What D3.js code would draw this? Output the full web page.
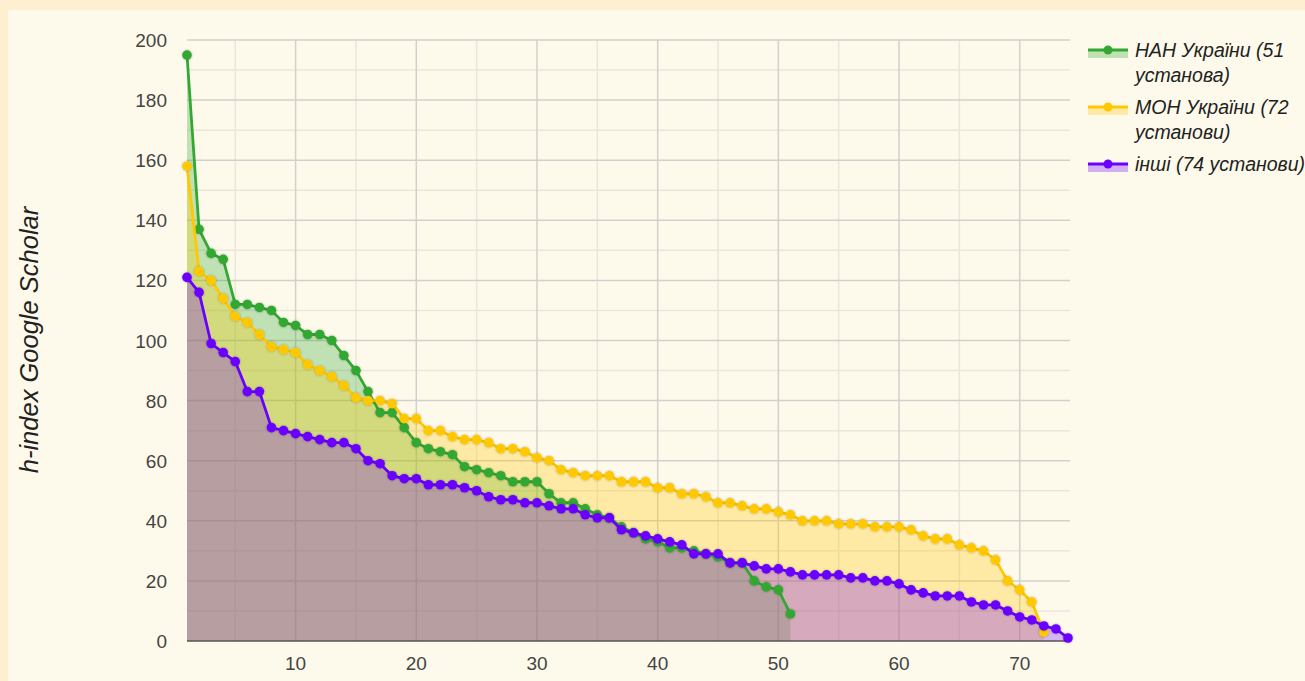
<!DOCTYPE html>
<html>
<head>
<meta charset="utf-8">
<script src="https://cdn.jsdelivr.net/npm/d3@7"></script>
<style>
  html, body { margin: 0; padding: 0; background: #fdefd0; }
  #chart { width: 1305px; height: 681px; overflow: hidden; }
  text { font-family: Arial, "Liberation Sans", sans-serif; }
</style>
</head>
<body>
<div id="chart"></div>
<script>
//=====================================================
// data (h-index by rank)
var seriesNames = ["НАН України (51 установа)", "МОН України (72 установи)", "інші (74 установи)"];
var seriesColors = ["#33a833", "#ffc800", "#6a00ff"];

var nanValues = [195, 137, 129, 127, 112, 112, 111, 110, 106, 105,
  102, 102, 100, 95, 90, 83, 76, 76, 71, 66,
  64, 63, 62, 58, 57, 56, 55, 53, 53, 53,
  49, 46, 46, 44, 42, 41, 38, 36, 34, 33,
  31, 31, 30, 29, 28, 26, 26, 20, 18, 17,
  9];

var monValues = [158, 123, 120, 114, 108, 106, 102, 98, 97, 96,
  92, 90, 88, 85, 81, 80, 80, 79, 74, 74,
  70, 70, 68, 67, 67, 66, 64, 64, 63, 61,
  60, 57, 56, 55, 55, 55, 53, 53, 53, 51,
  51, 49, 49, 48, 46, 46, 45, 44, 44, 43,
  42, 40, 40, 40, 39, 39, 39, 38, 38, 38,
  37, 35, 34, 34, 32, 31, 30, 27, 20, 17,
  13, 3];

var otherValues = [121, 116, 99, 96, 93, 83, 83, 71, 70, 69,
  68, 67, 66, 66, 64, 60, 59, 55, 54, 54,
  52, 52, 52, 51, 50, 48, 47, 47, 46, 46,
  45, 44, 44, 42, 41, 41, 37, 36, 35, 34,
  33, 32, 29, 29, 29, 26, 26, 25, 24, 24,
  23, 22, 22, 22, 22, 21, 21, 20, 20, 19,
  17, 16, 15, 15, 15, 13, 12, 12, 10, 8,
  7, 5, 4, 1];

var yTicks = [0, 20, 40, 60, 80, 100, 120, 140, 160, 180, 200];
var yMinor = [10, 30, 50, 70, 90, 110, 130, 150, 170, 190];
var xTicks = [10, 20, 30, 40, 50, 60, 70];
var xMinor = [5, 15, 25, 35, 45, 55, 65];
var yTitle = "h-index Google Scholar";

//=====================================================
var width = 1305, height = 681;

var svg = d3.select("#chart").append("svg")
  .attr("width", width)
  .attr("height", height);

// soft shadow for the points
var shadow = svg.append("defs").append("filter")
  .attr("id", "soft").attr("x", "-50%").attr("y", "-50%")
  .attr("width", "200%").attr("height", "200%");
shadow.append("feDropShadow")
  .attr("dx", 0).attr("dy", 0).attr("stdDeviation", 1.2)
  .attr("flood-color", "#000").attr("flood-opacity", 0.35);

// inner panel
svg.append("rect")
  .attr("x", 8).attr("y", 10)
  .attr("width", width).attr("height", height)
  .attr("fill", "#fefaeb");

var x = d3.scaleLinear().domain([1, 74]).range([187, 1068]);
var y = d3.scaleLinear().domain([0, 200]).range([641, 40]);

var gridRight = 1070;

// grid
var grid = svg.append("g");
grid.selectAll(".ymin").data(yMinor).enter().append("line")
  .attr("x1", x(1)).attr("x2", gridRight)
  .attr("y1", function(d) { return y(d); }).attr("y2", function(d) { return y(d); })
  .attr("stroke", "#ebe6da").attr("stroke-width", 1.5);
grid.selectAll(".xmin").data(xMinor).enter().append("line")
  .attr("x1", function(d) { return x(d); }).attr("x2", function(d) { return x(d); })
  .attr("y1", y(200)).attr("y2", y(0))
  .attr("stroke", "#ebe6da").attr("stroke-width", 1.5);
grid.selectAll(".ymaj").data(yTicks.slice(1)).enter().append("line")
  .attr("x1", x(1)).attr("x2", gridRight)
  .attr("y1", function(d) { return y(d); }).attr("y2", function(d) { return y(d); })
  .attr("stroke", "#d2d0cc").attr("stroke-width", 1.5);
grid.selectAll(".xmaj").data(xTicks).enter().append("line")
  .attr("x1", function(d) { return x(d); }).attr("x2", function(d) { return x(d); })
  .attr("y1", y(200)).attr("y2", y(0))
  .attr("stroke", "#d2d0cc").attr("stroke-width", 1.5);

var series = [nanValues, monValues, otherValues].map(function(vals, i) {
  return {
    name: seriesNames[i],
    color: seriesColors[i],
    points: vals.map(function(v, j) { return { i: j + 1, v: v }; })
  };
});

var area = d3.area()
  .x(function(d) { return x(d.i); })
  .y0(y(0))
  .y1(function(d) { return y(d.v); });

var line = d3.line()
  .x(function(d) { return x(d.i); })
  .y(function(d) { return y(d.v); });

// areas
svg.append("g").selectAll("path").data(series).enter().append("path")
  .attr("d", function(d) { return area(d.points); })
  .attr("fill", function(d) { return d.color; })
  .attr("fill-opacity", function(d, i) { return i == 2 ? 0.27 : 0.3; });

// baseline
svg.append("line")
  .attr("x1", x(1)).attr("x2", gridRight)
  .attr("y1", y(0)).attr("y2", y(0))
  .attr("stroke", "#555").attr("stroke-width", 1.5);

// lines + points
var sg = svg.append("g").selectAll("g").data(series).enter().append("g");
sg.append("path")
  .attr("d", function(d) { return line(d.points); })
  .attr("fill", "none")
  .attr("stroke", function(d) { return d.color; })
  .attr("stroke-width", 2.8);
sg.each(function(s) {
  d3.select(this).selectAll("circle").data(s.points).enter().append("circle")
    .attr("cx", function(d) { return x(d.i); })
    .attr("cy", function(d) { return y(d.v); })
    .attr("r", 4.8)
    .attr("fill", s.color)
    .attr("filter", "url(#soft)");
});

// axis labels
svg.append("g").selectAll("text").data(yTicks).enter().append("text")
  .attr("x", 167)
  .attr("y", function(d) { return y(d) + 7; })
  .attr("text-anchor", "end")
  .attr("font-size", 19)
  .attr("fill", "#444")
  .text(function(d) { return d; });

svg.append("g").selectAll("text").data(xTicks).enter().append("text")
  .attr("x", function(d) { return x(d); })
  .attr("y", 670)
  .attr("text-anchor", "middle")
  .attr("font-size", 19)
  .attr("fill", "#444")
  .text(function(d) { return d; });

svg.append("text")
  .attr("transform", "translate(38,340) rotate(-90)")
  .attr("text-anchor", "middle")
  .attr("font-size", 25.5)
  .attr("font-style", "italic")
  .attr("fill", "#222")
  .text(yTitle);

// legend
var legendY = 50;
series.forEach(function(s) {
  var g = svg.append("g");
  g.append("rect")
    .attr("x", 1088).attr("y", legendY)
    .attr("width", 40).attr("height", 8)
    .attr("fill", s.color).attr("fill-opacity", 0.3);
  g.append("line")
    .attr("x1", 1088).attr("x2", 1128)
    .attr("y1", legendY).attr("y2", legendY)
    .attr("stroke", s.color).attr("stroke-width", 2.8);
  g.append("circle")
    .attr("cx", 1108).attr("cy", legendY).attr("r", 4.5)
    .attr("fill", s.color);

  var txt = g.append("text")
    .attr("x", 1135).attr("y", legendY + 7)
    .attr("font-size", 19.5)
    .attr("font-style", "italic")
    .attr("fill", "#222");

  // simple word wrap
  var words = s.name.split(" "), cur = [], lines = 0;
  var tspan = txt.append("tspan").attr("x", 1135).attr("dy", 0);
  words.forEach(function(w) {
    cur.push(w);
    tspan.text(cur.join(" "));
    if (tspan.node().getComputedTextLength() > 175 && cur.length > 1) {
      cur.pop();
      tspan.text(cur.join(" "));
      cur = [w];
      tspan = txt.append("tspan").attr("x", 1135).attr("dy", 25).text(w);
      lines++;
    }
  });
  legendY += 25 * (lines + 1) + 7;
});
</script>
</body>
</html>
